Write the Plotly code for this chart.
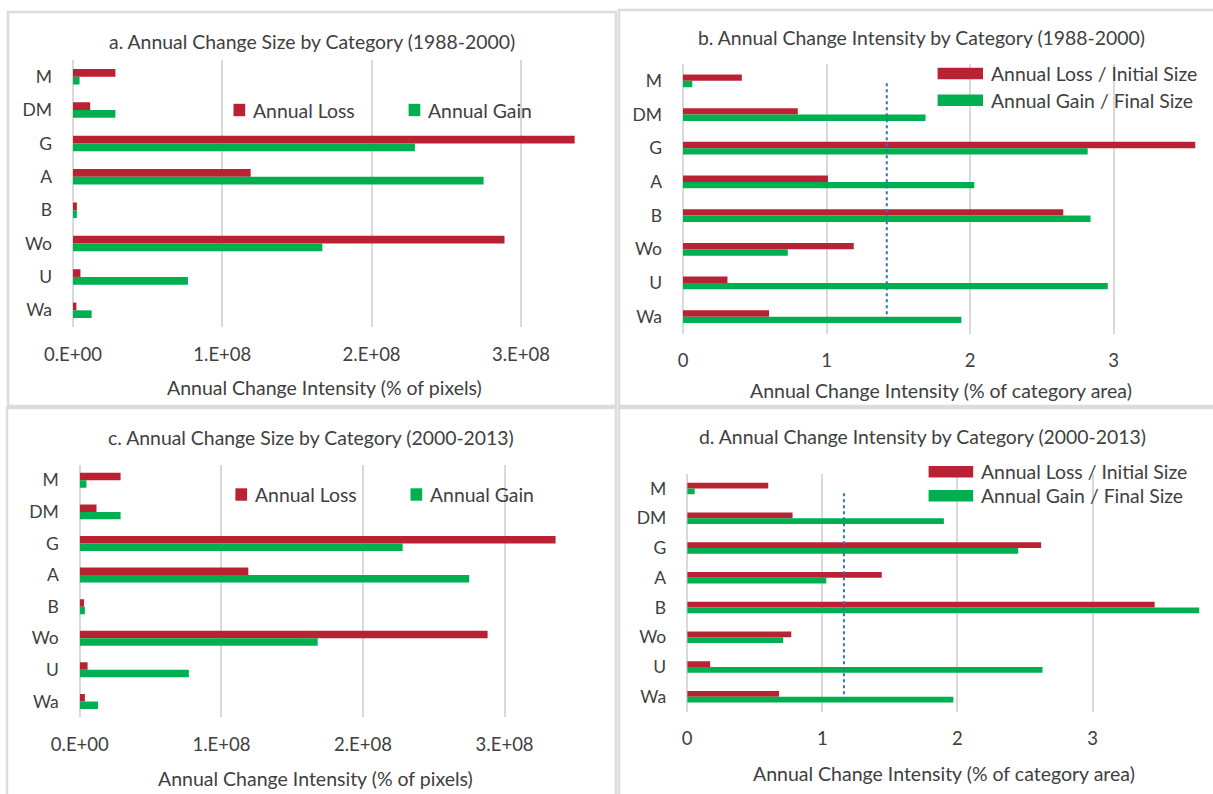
import plotly.graph_objects as go

W, H = 1213, 794

categories = ["M", "DM", "G", "A", "B", "Wo", "U", "Wa"]

# a. annual change size, 1988-2000 (pixels)
loss_size_1988 = [2.84e7, 1.15e7, 3.36e8, 1.19e8, 2.6e6, 2.89e8, 5.0e6, 2.3e6]
gain_size_1988 = [4.4e6, 2.84e7, 2.29e8, 2.75e8, 2.6e6, 1.67e8, 7.7e7, 1.25e7]

# b. annual change intensity, 1988-2000 (% of category area)
loss_int_1988 = [0.41, 0.80, 3.57, 1.01, 2.65, 1.19, 0.31, 0.60]
gain_int_1988 = [0.065, 1.69, 2.82, 2.03, 2.84, 0.73, 2.96, 1.94]
uniform_1988 = 1.42

# c. annual change size, 2000-2013 (pixels)
loss_size_2000 = [2.88e7, 1.18e7, 3.36e8, 1.19e8, 3.0e6, 2.88e8, 5.5e6, 3.6e6]
gain_size_2000 = [4.7e6, 2.88e7, 2.28e8, 2.75e8, 3.6e6, 1.68e8, 7.7e7, 1.29e7]

# d. annual change intensity, 2000-2013 (% of category area)
loss_int_2000 = [0.60, 0.78, 2.62, 1.44, 3.46, 0.77, 0.17, 0.68]
gain_int_2000 = [0.055, 1.90, 2.45, 1.03, 3.79, 0.71, 2.63, 1.97]
uniform_2000 = 1.16

size_tickvals = [0, 1e8, 2e8, 3e8]
size_ticktext = ["0.E+00", "1.E+08", "2.E+08", "3.E+08"]
int_tickvals = [0, 1, 2, 3]

titles = [
    "a. Annual Change Size by Category (1988-2000)",
    "b. Annual Change Intensity by Category (1988-2000)",
    "c. Annual Change Size by Category (2000-2013)",
    "d. Annual Change Intensity by Category (2000-2013)",
]
size_axis_title = "Annual Change Intensity (% of pixels)"
int_axis_title = "Annual Change Intensity (% of category area)"
size_legend = ["Annual Loss", "Annual Gain"]
int_legend = ["Annual Loss / Initial Size", "Annual Gain / Final Size"]

RED = "#BA2234"
GREEN = "#00B050"
GRID = "#D9D9D9"
TXT = "#404040"
FONT = "Lato, Arial, sans-serif"
TITLE_SIZE = 19.4
LEGEND_SIZE = 19.4


def px(x):
    return x / W


def py(y):
    return 1 - y / H


# panel geometry in pixels: x0 (zero), px-per-unit, range max, top, bottom, bar width
panels = [
    dict(x0=73.0, ppu=149.3 / 1e8, rmax=3.4e8, top=60, bot=327, bw=0.231,
         loss=loss_size_1988, gain=gain_size_1988, tv=size_tickvals, tt=size_ticktext),
    dict(x0=683.0, ppu=143.5, rmax=3.58, top=64, bot=333.5, bw=0.19,
         loss=loss_int_1988, gain=gain_int_1988, tv=int_tickvals, tt=[str(v) for v in int_tickvals]),
    dict(x0=79.8, ppu=141.6 / 1e8, rmax=3.4e8, top=464.5, bot=717.2, bw=0.237,
         loss=loss_size_2000, gain=gain_size_2000, tv=size_tickvals, tt=size_ticktext),
    dict(x0=687.2, ppu=135.1, rmax=3.8, top=473.6, bot=711.6, bw=0.196,
         loss=loss_int_2000, gain=gain_int_2000, tv=int_tickvals, tt=[str(v) for v in int_tickvals]),
]

fig = go.Figure()
layout = dict(
    template="none",
    width=W, height=H, margin=dict(l=0, r=0, t=0, b=0, pad=0, autoexpand=False),
    paper_bgcolor="white", plot_bgcolor="white",
    barmode="overlay", showlegend=False,
    font=dict(family=FONT, color=TXT, size=18),
)

for i, p in enumerate(panels):
    n = "" if i == 0 else str(i + 1)
    xa, ya = "x" + n, "y" + n
    fig.add_trace(go.Bar(y=categories, x=p["loss"], orientation="h", marker_color=RED,
                         marker_line_width=0, width=p["bw"], offset=-p["bw"],
                         xaxis=xa, yaxis=ya, name="loss"))
    fig.add_trace(go.Bar(y=categories, x=p["gain"], orientation="h", marker_color=GREEN,
                         marker_line_width=0, width=p["bw"], offset=0,
                         xaxis=xa, yaxis=ya, name="gain"))
    xr = p["x0"] + p["rmax"] * p["ppu"]
    layout["xaxis" + n] = dict(
        domain=[px(p["x0"]), px(xr)], range=[0, p["rmax"]], anchor=ya, automargin=False,
        tickvals=p["tv"], ticktext=p["tt"], showgrid=True, gridcolor=GRID, gridwidth=1.5,
        zeroline=True, zerolinecolor=GRID, zerolinewidth=1.5, showline=False,
        ticks="", ticklabelstandoff=14, tickfont=dict(size=18.5, color=TXT, family=FONT),
        fixedrange=True,
    )
    layout["yaxis" + n] = dict(
        domain=[py(p["bot"]), py(p["top"])], anchor=xa, type="category", automargin=False,
        categoryorder="array", categoryarray=categories, autorange="reversed",
        showgrid=False, zeroline=False, showline=False, ticks="",
        ticklabelstandoff=20, tickfont=dict(size=17.5, color=TXT, family=FONT),
        fixedrange=True,
    )

# uniform intensity lines
shapes = []
for n, val, y0, y1 in [("2", uniform_1988, 0.07, 7.1), ("4", uniform_2000, 0.16, 7.04)]:
    shapes.append(dict(type="line", xref="x" + n, yref="y" + n, x0=val, x1=val, y0=y0, y1=y1,
                       line=dict(color="#2E75B6", width=2, dash="dot")))

# panel frames
for x0, y0, x1, y1 in [(8, 12, 616, 406), (619, 10, 1216, 406),
                       (7, 408, 616, 800), (619, 408, 1216, 800)]:
    shapes.append(dict(type="rect", xref="paper", yref="paper",
                       x0=px(x0), x1=px(x1), y0=py(y1), y1=py(y0),
                       line=dict(color="#DCDCDC", width=2.5), fillcolor="rgba(0,0,0,0)"))

annotations = []


def text(x, y, s, size=TITLE_SIZE, xanchor="center"):
    annotations.append(dict(x=px(x), y=py(y), xref="paper", yref="paper", text=s,
                            showarrow=False, xanchor=xanchor, yanchor="middle",
                            font=dict(size=size, color=TXT, family=FONT)))


# titles and axis titles
text(312, 42, titles[0])
text(921, 37, titles[1])
text(311, 438, titles[2])
text(922, 436, titles[3])
text(324, 387, size_axis_title, size=19.5)
text(941, 390, int_axis_title, size=19.5)
text(315, 778, size_axis_title, size=19.5)
text(944, 773, int_axis_title, size=19.5)

# legends for size panels (square keys)
for (lx, gx, ly, ltx, gtx) in [(233.5, 408.6, 110, 251, 426), (235.4, 410.5, 494.5, 253, 428)]:
    for kx, col, tx, s in [(lx, RED, ltx, size_legend[0]), (gx, GREEN, gtx, size_legend[1])]:
        shapes.append(dict(type="rect", xref="paper", yref="paper", x0=px(kx), x1=px(kx + 11.7),
                           y0=py(ly + 6.2), y1=py(ly - 6.2), fillcolor=col, line=dict(width=0)))
        text(tx, ly, s, size=LEGEND_SIZE, xanchor="left")

# legends for intensity panels (wide keys)
for (kx0, kx1, ly, gy, tx) in [(937.6, 983, 73.5, 100.2, 989), (928.6, 973.2, 471.7, 495.7, 979)]:
    for y, col, s in [(ly, RED, int_legend[0]), (gy, GREEN, int_legend[1])]:
        shapes.append(dict(type="rect", xref="paper", yref="paper", x0=px(kx0), x1=px(kx1),
                           y0=py(y + 5.8), y1=py(y - 5.8), fillcolor=col, line=dict(width=0)))
        text(tx, y, s, size=LEGEND_SIZE, xanchor="left")

layout["shapes"] = shapes
layout["annotations"] = annotations
fig.update_layout(**layout)
fig.write_html("out.html")
